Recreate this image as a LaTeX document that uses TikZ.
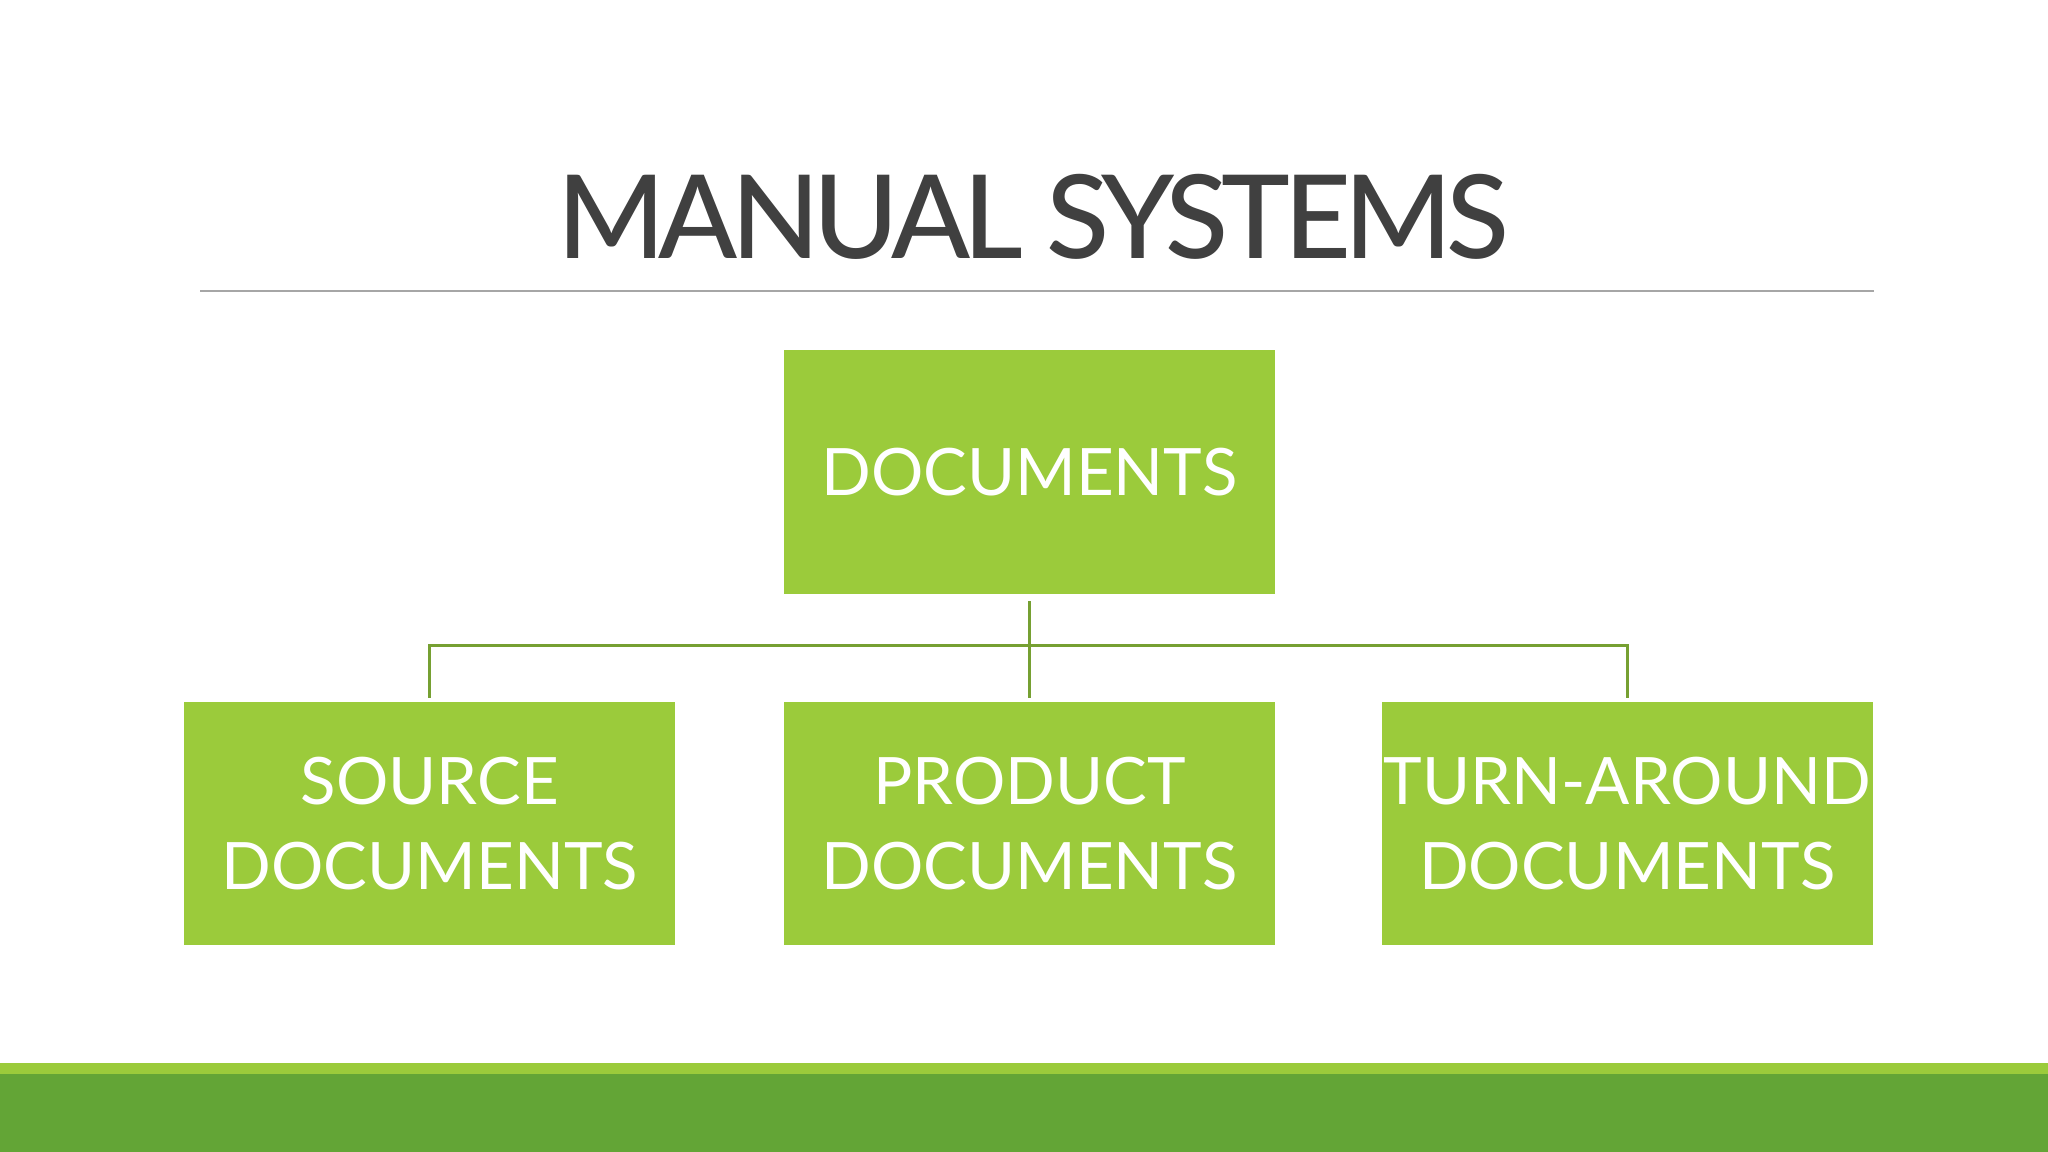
\documentclass[tikz,border=0pt]{standalone}
\usepackage{fontspec}
\setmainfont{Lato}
\newfontfamily\latomedium[LetterSpace=-5.6]{Lato Medium}
\usepackage{xcolor}
\usetikzlibrary{positioning}
\definecolor{limegreen}{HTML}{9BCB3B}
\definecolor{darkgreen}{HTML}{63A536}
\definecolor{linkgreen}{HTML}{76A032}
\definecolor{titlegray}{HTML}{404040}
\definecolor{rulegray}{HTML}{A6A6A6}

\begin{document}
\begin{tikzpicture}[x=0.01cm,y=0.01cm,
  docbox/.style={fill=limegreen,text=white,minimum width=4.91cm,minimum height=2.43cm,
    align=center,inner sep=0pt,font=\fontsize{18.6}{24}\selectfont},
  link/.style={linkgreen,line width=0.8pt}]
   \useasboundingbox (0,0) rectangle (2048,1152);
   % footer band
   \fill[limegreen] (0,78) rectangle (2048,89);
   \fill[darkgreen] (0,0) rectangle (2048,78);
   % title and rule
   \node[text=titlegray,font=\latomedium\fontsize{33}{40}\selectfont] (title) at (1033,935) {MANUAL SYSTEMS};
   \draw[rulegray,line width=0.6pt] (200,861) -- (1874,861);
   % chart
   \node[docbox] (docs) at (1029.5,680) {DOCUMENTS};
   \node[docbox,below=1.07cm of docs] (product) {PRODUCT\\DOCUMENTS};
   \node[docbox,left=1.07cm of product] (source) {SOURCE\\DOCUMENTS};
   \node[docbox,right=1.05cm of product] (turn) {TURN-AROUND\\DOCUMENTS};
   \draw[link] ([yshift=-2pt]docs.south) -- ([yshift=1pt]product.north);
   \draw[link] ([yshift=1pt]source.north) -- ++(0,52) -| ([yshift=1pt]turn.north);
\end{tikzpicture}
\end{document}
